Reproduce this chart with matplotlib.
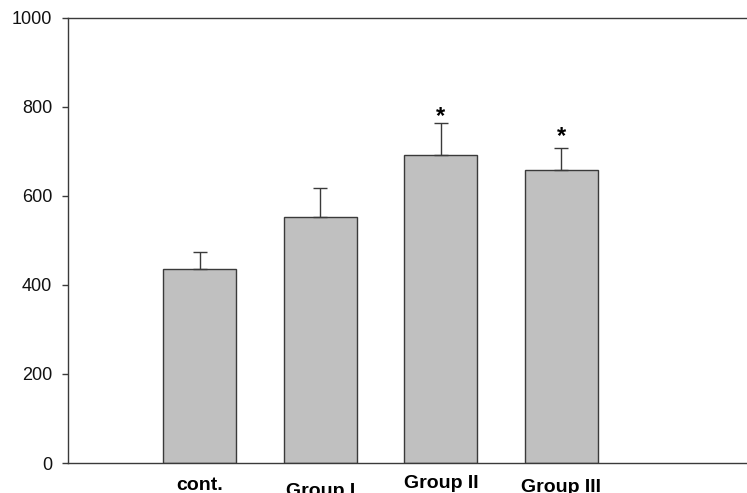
import matplotlib
matplotlib.use("Agg")
import matplotlib.pyplot as plt
import matplotlib.transforms as mtransforms

categories = ["cont.", "Group I", "Group II", "Group III"]
means = [436, 553, 692, 657]
errors = [38, 65, 71, 50]
star_values = [None, None, 778, 733]
label_drop_px = [1, 7, 0, 3]

plt.rcParams['font.family'] = ['Liberation Sans', 'DejaVu Sans']

fig = plt.figure(figsize=(7.47, 4.93), dpi=100)
ax = fig.add_axes([68/747, 30/493, 1 - 68/747, (463 - 17.5)/493])

x = list(range(len(categories)))
ax.bar(x, means, width=0.606, color='#c0c0c0', edgecolor='#3a3a3a', linewidth=1.0, zorder=2)
ax.errorbar(x, means, yerr=[[0]*len(means), errors], fmt='none', ecolor='#3a3a3a',
            elinewidth=1.0, capsize=5, capthick=1.0, zorder=3)
for xi, sv in zip(x, star_values):
    if sv is not None:
        ax.text(xi, sv, '*', ha='center', va='center', fontsize=17, fontweight='bold', color='black')

ax.set_xlim(-1.095, 4.54)
ax.set_ylim(0, 1000)
ax.set_yticks([0, 200, 400, 600, 800, 1000])
ax.tick_params(axis='y', direction='out', length=4.3, width=1.0, color='#3a3a3a',
               labelsize=13, pad=7, labelcolor='#111111')
ax.set_xticks(x)
ax.set_xticklabels(categories, fontsize=14, fontweight='bold')
ax.tick_params(axis='x', length=0, pad=9)
for lbl, d in zip(ax.get_xticklabels(), label_drop_px):
    lbl.set_transform(lbl.get_transform() + mtransforms.ScaledTranslation(0, -d/100, fig.dpi_scale_trans))

for s in ['left', 'bottom', 'top']:
    ax.spines[s].set_color('#3a3a3a')
    ax.spines[s].set_linewidth(1.0)
ax.spines['right'].set_visible(False)

fig.savefig('out.png', dpi=100)
